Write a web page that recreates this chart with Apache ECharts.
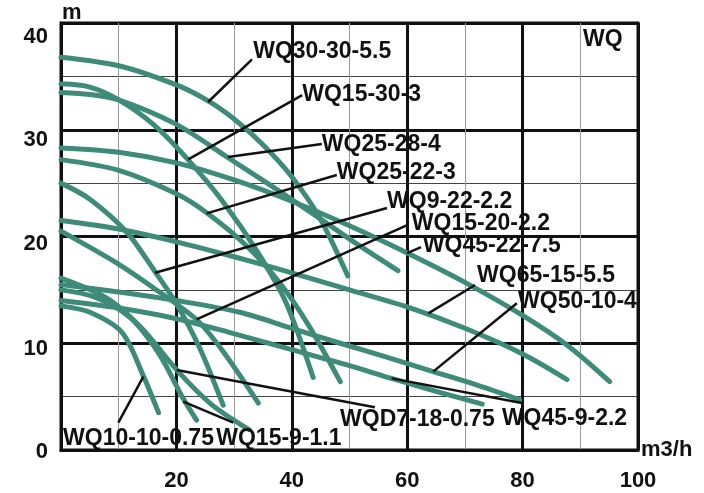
<!DOCTYPE html>
<html><head><meta charset="utf-8">
<script src="https://cdn.jsdelivr.net/npm/echarts@6/dist/echarts.min.js"></script>
<style>html,body{margin:0;padding:0;background:#fff}#c{width:704px;height:493px}</style>
</head><body><div id="c"></div>
<script>
// axis ticks
const xTickValues = [0, 20, 40, 60, 80, 100];
const yTickValues = [0, 10, 20, 30, 40];

// pump curves: [flow m3/h, head m]
const WQ30_30_5_5 = [[0,36.8],[10,36.0],[20,34.2],[25.5,32.7],[30,31.0],[35,28.6],[40,25.6],[45,21.6],[49.7,16.3]];
const WQ15_30_3 = [[0,34.3],[5,34.0],[10,32.8],[16,30.5],[22,27.2],[28,23.3],[34,18.6],[39,13.8],[43.7,6.8]];
const WQ25_28_4 = [[0,33.5],[5,33.3],[10,32.8],[20,30.5],[28.9,27.4],[36,24.9],[44,22.0],[51,19.4],[58.4,16.8]];
const WQ45_22_7_5 = [[0,28.3],[10,27.9],[20,26.9],[30,25.3],[40,23.3],[50,21.0],[60,18.45],[70,15.7],[80,12.6],[88,9.7],[95.1,6.4]];
const WQ25_22_3 = [[0,27.2],[10,26.2],[20,24.0],[25.3,22.2],[32,19.2],[38,15.6],[43,11.6],[48.4,6.4]];
const WQ9_22_2_2 = [[0,25.0],[5,23.5],[11.4,20.4],[16.3,16.7],[20,13.7],[24,9.6],[28.1,4.2]];
const WQ15_20_2_2 = [[0,20.5],[9.4,17.6],[16,15.2],[23.5,12.2],[28,9.3],[34.2,4.4]];
const WQ65_15_5_5 = [[0,21.5],[10,20.7],[20,19.5],[30,18.1],[40,16.6],[50,15.0],[60,13.4],[70,11.4],[80,9.0],[87.7,6.6]];
const WQ50_10_4 = [[0,15.5],[10,14.8],[20,14.0],[31,12.9],[40,11.4],[48.4,10.0],[57,8.6],[64.5,7.35],[72,6.1],[79.5,4.7]];
const WQ45_9_2_2 = [[0,14.0],[10,13.3],[20,12.3],[29.3,11.0],[40,9.4],[50,7.9],[57.3,6.7],[65,5.5],[73,4.3]];
const WQ10_10_0_75 = [[0,13.5],[5,12.9],[10.6,11.0],[14.3,6.9],[16.9,3.5]];
const WQ15_9_1_1 = [[0,15.0],[6,14.3],[12,12.4],[17,9.0],[21.2,4.8],[23.5,2.8]];
const WQD7_18_0_75 = [[0,16.1],[8,14.2],[14,11.4],[20.05,7.5],[26,4.3],[32.6,1.9]];

// label names, text anchors (left-middle, data units) and leader lines (curve point -> label)
const labelNames = ['WQ30-30-5.5','WQ15-30-3','WQ25-28-4','WQ25-22-3','WQ9-22-2.2','WQ15-20-2.2','WQ45-22-7.5','WQ65-15-5.5','WQ50-10-4','WQ10-10-0.75','WQ15-9-1.1','WQD7-18-0.75','WQ45-9-2.2'];
const labelAnchors = [[33.3,37.3],[41.8,33.3],[45.2,28.6],[47.8,26.0],[56.5,23.3],[60.8,21.2],[62.7,19.1],[72.1,16.35],[79.2,13.9],[0.35,1.05],[26.9,1.05],[48.35,2.8],[76.4,2.95]];
const leaderLines = [
  [[25.5,32.6],[33.1,36.6]],
  [[22.06,27.23],[41.8,33.25]],
  [[28.94,27.45],[45.2,28.67]],
  [[25.25,22.17],[47.8,25.76]],
  [[16.3,16.6],[56.5,22.67]],
  [[23.5,12.24],[60.1,21.08]],
  [[60.0,18.45],[62.4,19.0]],
  [[63.66,12.8],[71.75,15.46]],
  [[64.5,7.34],[79.0,13.74]],
  [[14.27,6.87],[9.94,2.56]],
  [[21.2,4.53],[29.86,2.56]],
  [[20.05,7.49],[54.4,4.0]],
  [[57.3,6.71],[80.1,4.37]]
];

const curves = [
  ['WQ30-30-5.5', WQ30_30_5_5], ['WQ15-30-3', WQ15_30_3], ['WQ25-28-4', WQ25_28_4],
  ['WQ45-22-7.5', WQ45_22_7_5], ['WQ25-22-3', WQ25_22_3], ['WQ9-22-2.2', WQ9_22_2_2],
  ['WQ15-20-2.2', WQ15_20_2_2], ['WQ65-15-5.5', WQ65_15_5_5], ['WQ50-10-4', WQ50_10_4],
  ['WQ45-9-2.2', WQ45_9_2_2], ['WQ10-10-0.75', WQ10_10_0_75], ['WQ15-9-1.1', WQ15_9_1_1],
  ['WQD7-18-0.75', WQD7_18_0_75]
];

const FONT = '"Liberation Sans", Arial, sans-serif';
const INK = '#111';
const GREEN = '#3d8b78';

const chart = echarts.init(document.getElementById('c'), null, {renderer: 'canvas'});

const series = curves.map(([name, data]) => ({
  name, type: 'line', data, smooth: 0.3,
  showSymbol: false, symbol: 'none', silent: true, z: 3,
  lineStyle: {color: GREEN, width: 5, cap: 'round', join: 'round'}
}));
series.push({
  type: 'lines', coordinateSystem: 'cartesian2d', silent: true, z: 4,
  data: leaderLines.map(c => ({coords: c})),
  lineStyle: {color: INK, width: 2.5, opacity: 1, curveness: 0}
});
series.push({
  type: 'scatter', silent: true, z: 5, symbolSize: 0.1,
  itemStyle: {color: 'transparent', opacity: 1},
  data: labelNames.map((n, i) => ({name: n, value: labelAnchors[i]})),
  label: {show: true, position: 'right', distance: 0, formatter: '{b}', opacity: 1,
    fontFamily: FONT, fontWeight: 'bold', fontSize: 23, color: INK}
});

const axisLabelStyle = {fontFamily: FONT, fontWeight: 'bold', fontSize: 22, color: INK};
const yLabelRich = {
  y0: {padding: [4, 0, 0, 0]},
  y10: {padding: [11, 0, 0, 0]},
  y20: {padding: [14, 0, 0, 0]},
  y30: {padding: [20, 0, 0, 0]},
  y40: {padding: [28, 0, 0, 0]}
};
Object.keys(yLabelRich).forEach(k => Object.assign(yLabelRich[k], axisLabelStyle));

chart.setOption({
  animation: false,
  backgroundColor: '#fff',
  grid: {left: 61, top: 23, right: 66, bottom: 43, show: true, borderColor: INK, borderWidth: 3, backgroundColor: 'transparent'},
  xAxis: {
    type: 'value', min: xTickValues[0], max: xTickValues[xTickValues.length - 1], interval: 20,
    axisLine: {show: true, onZero: false, lineStyle: {color: INK, width: 3}},
    axisTick: {show: false},
    axisLabel: Object.assign({margin: 20, formatter: v => (xTickValues.indexOf(v) > 0 ? String(v) : '')}, axisLabelStyle),
    splitLine: {show: true, lineStyle: {color: INK, width: 3}},
    minorTick: {show: false, splitNumber: 2},
    minorSplitLine: {show: true, lineStyle: {color: '#9a9a9a', width: 1}}
  },
  yAxis: {
    type: 'value', min: yTickValues[0], max: yTickValues[yTickValues.length - 1], interval: 10,
    axisLine: {show: true, onZero: false, lineStyle: {color: INK, width: 3}},
    axisTick: {show: false},
    axisLabel: Object.assign({margin: 13, verticalAlign: 'middle',
      formatter: v => (yTickValues.indexOf(v) >= 0 ? '{y' + v + '|' + v + '}' : ''),
      rich: yLabelRich}, axisLabelStyle),
    splitLine: {show: true, lineStyle: {color: INK, width: 3}},
    minorTick: {show: false, splitNumber: 2},
    minorSplitLine: {show: true, lineStyle: {color: '#444', width: 1}}
  },
  graphic: [
    {type: 'text', left: 62, top: 2, z: 10, style: {text: 'm', font: 'bold 22px ' + FONT, fill: INK}},
    {type: 'text', left: 641, top: 439, z: 10, style: {text: 'm3/h', font: 'bold 22px ' + FONT, fill: INK}},
    {type: 'text', left: 583, top: 28, z: 10, style: {text: 'WQ', font: 'bold 23px ' + FONT, fill: INK}}
  ],
  series
});
</script>
</body></html>
